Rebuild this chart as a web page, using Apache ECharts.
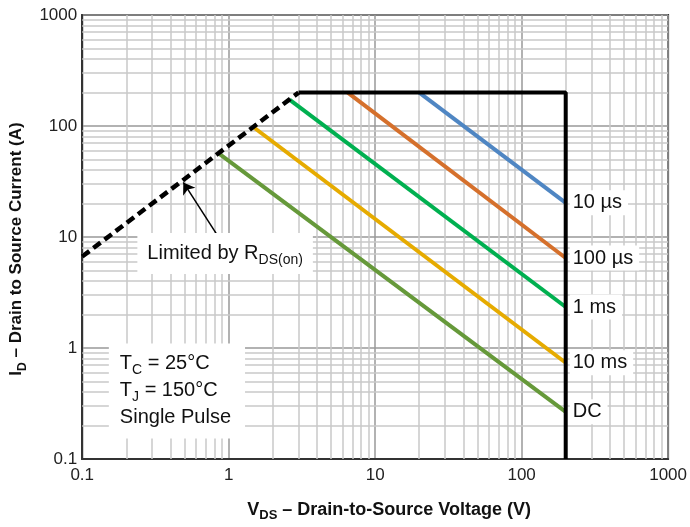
<!DOCTYPE html>
<html>
<head>
<meta charset="utf-8">
<script src="https://cdn.jsdelivr.net/npm/echarts@6/dist/echarts.min.js"></script>
<style>
  html, body { margin: 0; padding: 0; background: #fff; }
  #chart { width: 690px; height: 527px; }
</style>
</head>
<body>
<div id="chart"></div>
<script>
// tick labels
const xTickLabels = ['0.1', '1', '10', '100', '1000'];
const yTickLabels = ['0.1', '1', '10', '100', '1000'];
const minorTicks = [0.2, 0.3, 0.4, 0.5, 0.6, 0.7, 0.8, 0.9,
  2, 3, 4, 5, 6, 7, 8, 9, 20, 30, 40, 50, 60, 70, 80, 90,
  200, 300, 400, 500, 600, 700, 800, 900];
const axisMin = 0.1;
const axisMax = 1000;

// [VDS, ID] end points
const rdsLimit = [[0.1, 6.67], [3, 200]];
const boundary = [[3, 200], [200, 200], [200, 0.1]];
const pulse10us = [[20, 200], [200, 20.3]];
const pulse100us = [[6.5, 200], [200, 6.47]];
const pulse1ms = [[2.6, 173], [200, 2.34]];
const pulse10ms = [[1.47, 98], [200, 0.736]];
const pulseDC = [[0.85, 57], [200, 0.266]];

const pulseNames = ['10 µs', '100 µs', '1 ms', '10 ms', 'DC'];
const pulseData = [pulse10us, pulse100us, pulse1ms, pulse10ms, pulseDC];
const pulseColors = ['#4f86c3', '#d5702c', '#00b050', '#e6ab00', '#66993a'];

const font = 'Liberation Sans, Arial, Helvetica, sans-serif';
const titleFont = 'Liberation Sans, Arial, sans-serif';

const textRich = {
  a: { fontFamily: font, fontSize: 20, color: '#111', lineHeight: 27 },
  s: { fontFamily: font, fontSize: 14, color: '#111', lineHeight: 14, verticalAlign: 'bottom' }
};
function titleRich(size) {
  return {
    b: { fontFamily: titleFont, fontWeight: 'bold', fontSize: size, color: '#111', lineHeight: 24 },
    bs: { fontFamily: titleFont, fontWeight: 'bold', fontSize: size - 5, color: '#111', lineHeight: 12, verticalAlign: 'bottom' }
  };
}

const chart = echarts.init(document.getElementById('chart'));

const minorGrid = minorTicks.map(v => ({ coords: [[v, axisMin], [v, axisMax]] }))
  .concat(minorTicks.map(v => ({ coords: [[axisMin, v], [axisMax, v]] })));

const pulseSeries = pulseNames.map((name, i) => ({
  type: 'line',
  name: name,
  data: pulseData[i],
  showSymbol: false,
  z: 5,
  lineStyle: { color: pulseColors[i], width: 4 },
  endLabel: {
    show: true,
    formatter: name,
    distance: 4,
    fontFamily: font,
    fontSize: 20,
    color: '#111',
    backgroundColor: '#fff',
    padding: [3, 6, 2, 3]
  }
}));

const option = {
  animation: false,
  grid: {
    left: 81, right: 19, top: 15, bottom: 59,
    show: true, borderColor: '#333', borderWidth: 2, backgroundColor: '#fff'
  },
  xAxis: {
    type: 'log',
    logBase: 10,
    min: axisMin,
    max: axisMax,
    axisLine: { show: true, lineStyle: { color: '#333', width: 2 } },
    axisTick: { show: false },
    splitLine: { show: true, lineStyle: { color: '#999', width: 1.5 } },
    axisLabel: {
      formatter: v => xTickLabels[Math.round(Math.log10(v)) + 1],
      color: '#222', fontFamily: font, fontSize: 17, margin: 8
    },
    name: '{b|V}{bs|DS}{b| – Drain-to-Source Voltage (V)}',
    nameLocation: 'middle',
    nameGap: 39,
    nameTextStyle: { rich: titleRich(18), padding: [0, 0, 0, 28] }
  },
  yAxis: {
    type: 'log',
    logBase: 10,
    min: axisMin,
    max: axisMax,
    axisLine: { show: true, lineStyle: { color: '#333', width: 2 } },
    axisTick: { show: false },
    splitLine: { show: true, lineStyle: { color: '#999', width: 1.5 } },
    axisLabel: {
      formatter: v => yTickLabels[Math.round(Math.log10(v)) + 1],
      color: '#222', fontFamily: font, fontSize: 17, margin: 5
    },
    name: '{b|I}{bs|D}{b| – Drain to Source Current (A)}',
    nameLocation: 'middle',
    nameRotate: 90,
    nameGap: 46,
    nameTextStyle: { rich: titleRich(17), padding: [0, 24, 0, 0] }
  },
  series: [
    {
      // minor log grid
      type: 'lines',
      coordinateSystem: 'cartesian2d',
      silent: true,
      z: 1,
      lineStyle: { color: '#c8c8c8', width: 1.5, opacity: 1 },
      data: minorGrid
    },
    ...pulseSeries,
    {
      type: 'line',
      name: 'RDS(on) limit',
      data: rdsLimit,
      showSymbol: false,
      z: 6,
      lineStyle: { color: '#000', width: 4.5, type: [9, 5] },
      markLine: {
        silent: true,
        symbol: ['none', 'arrow'],
        symbolSize: 11,
        label: { show: false },
        lineStyle: { color: '#000', width: 1.5, type: 'solid' },
        data: [[{ coord: [0.84, 10.3] }, { coord: [0.49, 31] }]]
      },
      markPoint: {
        symbol: 'rect',
        symbolSize: 1,
        itemStyle: { color: 'rgba(0,0,0,0)' },
        data: [
          {
            coord: [0.238, 7.1],
            label: {
              show: true, position: 'inside', align: 'left', verticalAlign: 'middle',
              formatter: '{a|Limited by R}{s|DS(on)}',
              rich: textRich,
              backgroundColor: '#fff',
              padding: [7, 10, 7, 10]
            }
          },
          {
            coord: [0.152, 0.41],
            label: {
              show: true, position: 'inside', align: 'left', verticalAlign: 'middle',
              formatter: '{a|T}{s|C}{a| = 25°C}\n{a|T}{s|J}{a| = 150°C}\n{a|Single Pulse}',
              rich: textRich,
              backgroundColor: '#fff',
              padding: [7, 14, 7, 11]
            }
          }
        ]
      }
    },
    {
      type: 'line',
      name: 'SOA boundary',
      data: boundary,
      showSymbol: false,
      z: 6,
      lineStyle: { color: '#000', width: 4 }
    }
  ]
};

chart.setOption(option);
</script>
</body>
</html>
